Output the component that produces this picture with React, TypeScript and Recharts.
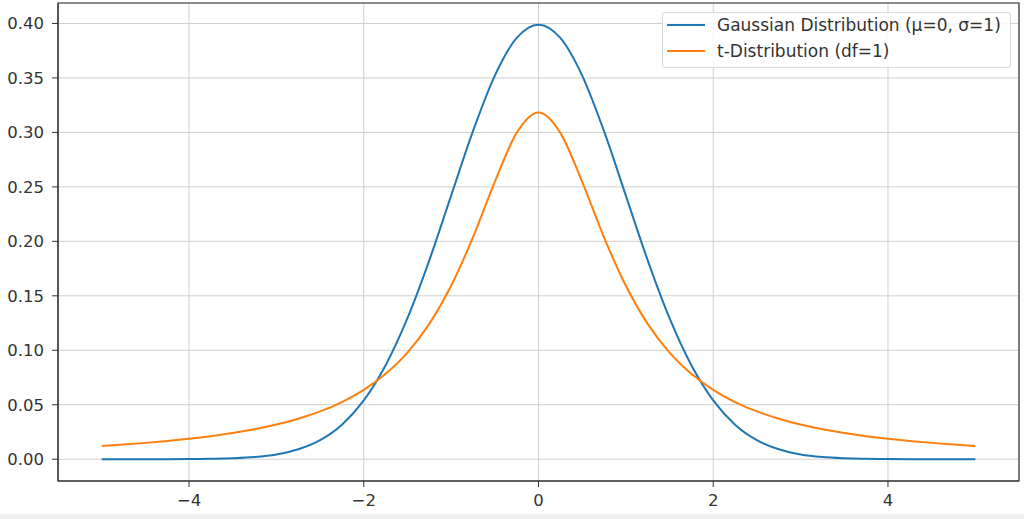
import { LineChart, Line, XAxis, YAxis, CartesianGrid, ReferenceArea } from 'recharts'

// x positions sampled along the curves
const xs = [
  -5, -4.75, -4.5, -4.25, -4, -3.75, -3.5, -3.25, -3, -2.75, -2.5, -2.25, -2, -1.75, -1.5, -1.25, -1, -0.75, -0.5, -0.25,
  0, 0.25, 0.5, 0.75, 1, 1.25, 1.5, 1.75, 2, 2.25, 2.5, 2.75, 3, 3.25, 3.5, 3.75, 4, 4.25, 4.5, 4.75, 5,
]

// right half of each curve (x = 0 .. 5), mirrored for the left half
const gaussHalf = [
  0.3989, 0.3867, 0.3521, 0.3011, 0.242, 0.1826, 0.1295, 0.0863, 0.054, 0.0317, 0.0175, 0.0091, 0.0044, 0.002, 0.0009,
  0.0004, 0.0001, 0.0, 0.0, 0.0, 0.0,
]
const tHalf = [
  0.3183, 0.2996, 0.2546, 0.2037, 0.1592, 0.1242, 0.0979, 0.0784, 0.0637, 0.0525, 0.0439, 0.0372, 0.0318, 0.0275, 0.024,
  0.0211, 0.0187, 0.0167, 0.015, 0.0135, 0.0122,
]

const xTicks = [-4, -2, 0, 2, 4]
const yTicks = [0, 0.05, 0.1, 0.15, 0.2, 0.25, 0.3, 0.35, 0.4]

const gaussValues = [...gaussHalf.slice(1).reverse(), ...gaussHalf]
const tValues = [...tHalf.slice(1).reverse(), ...tHalf]

const data = xs.map((x, i) => ({ x, gauss: gaussValues[i], t: tValues[i] }))

const seriesInfo = [
  { key: 'gauss', name: 'Gaussian Distribution (μ=0, σ=1)', color: '#1f77b4' },
  { key: 't', name: 't-Distribution (df=1)', color: '#ff7f0e' },
]

const font = '"DejaVu Sans", Verdana, sans-serif'
const fontSize = 16.5

function LegendBox() {
  return (
    <div
      style={{
        position: 'absolute',
        left: 662,
        top: 12,
        width: 349,
        height: 56,
        boxSizing: 'border-box',
        background: 'rgba(255,255,255,0.85)',
        border: '1px solid #d8d8d8',
        borderRadius: 3,
        padding: '0 0 0 4px',
        fontFamily: font,
        fontSize: 17,
        color: '#333',
      }}
    >
      <div style={{ marginTop: -1 }}>
        {seriesInfo.map((s) => (
          <div key={s.key} style={{ display: 'flex', alignItems: 'center', height: 26, whiteSpace: 'nowrap' }}>
            <div style={{ width: 38, height: 2, background: s.color, marginRight: 12 }} />
            <span>{s.name}</span>
          </div>
        ))}
      </div>
    </div>
  )
}

export default function App() {
  return (
    <div style={{ position: 'fixed', left: 0, top: 0, width: 1024, height: 519, background: '#fff' }}>
      <LineChart width={1024} height={513} data={data} margin={{ top: 3, right: 5, bottom: 0, left: 0 }}>
        <CartesianGrid stroke="#cfcfcf" strokeWidth={1} />
        <XAxis
          dataKey="x"
          type="number"
          domain={[-5.5, 5.5]}
          ticks={xTicks}
          allowDataOverflow
          height={32}
          tickSize={6}
          tickMargin={7}
          stroke="#333"
          tick={{ fill: '#333', fontSize, fontFamily: font }}
          tickFormatter={(v: number) => (v < 0 ? '\u2212' + Math.abs(v) : String(v))}
        />
        <YAxis
          type="number"
          domain={[-0.02, 0.4188]}
          ticks={yTicks}
          allowDataOverflow
          width={58}
          tickSize={6}
          tickMargin={8}
          stroke="#333"
          tick={{ fill: '#333', fontSize, fontFamily: font }}
          tickFormatter={(v: number) => v.toFixed(2)}
        />
        <ReferenceArea x1={-5.5} x2={5.5} y1={-0.02} y2={0.4188} fill="none" stroke="#333" strokeWidth={1.2} />
        {seriesInfo.map((s) => (
          <Line
            key={s.key}
            type="monotone"
            dataKey={s.key}
            name={s.name}
            stroke={s.color}
            strokeWidth={2}
            dot={false}
            isAnimationActive={false}
          />
        ))}
      </LineChart>
      <LegendBox />
      <div style={{ position: 'absolute', left: 0, top: 514, width: 1024, height: 5, background: '#efefef' }} />
    </div>
  )
}
